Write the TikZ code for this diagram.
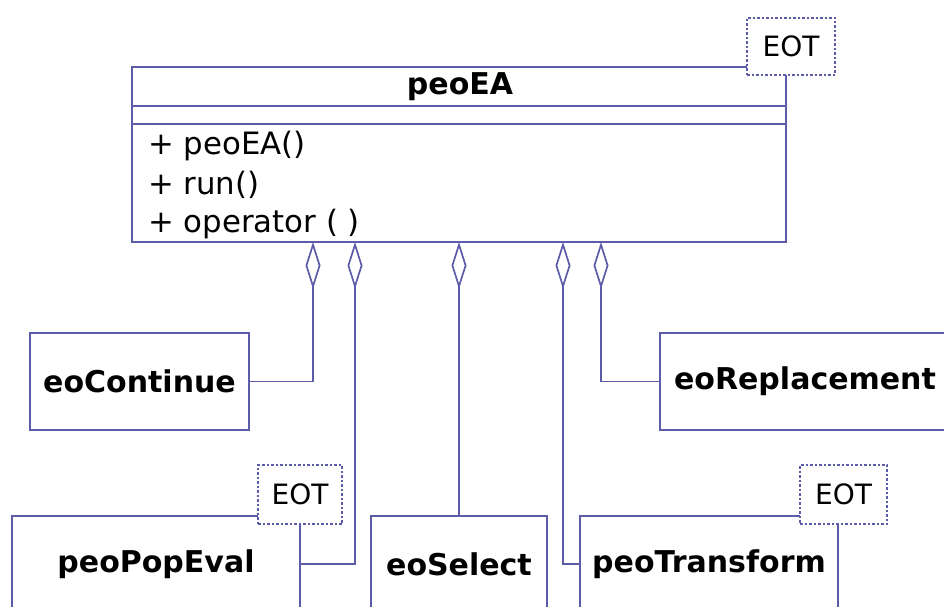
\documentclass[tikz,border=0pt]{standalone}
\usepackage{fontspec}
\setmainfont{DejaVu Sans}
\usetikzlibrary{arrows.meta}
\definecolor{lc}{RGB}{92,92,170}
\begin{document}
\begin{tikzpicture}[x=1pt,y=-1pt,
  cls/.style={draw=lc,line width=1.7pt,rectangle,inner sep=0pt,font=\fontsize{30}{36}\selectfont\bfseries},
  eot/.style={draw=lc,line width=1.4pt,dash pattern=on 2.5pt off 2pt,fill=white,inner sep=0pt,font=\fontsize{28}{34}\selectfont},
  meth/.style={anchor=west,inner sep=0pt,font=\fontsize{30.8}{36}\selectfont},
  sep/.style={draw=lc,line width=1.7pt},
  agg/.style={draw=lc,line width=1.7pt,{Diamond[open,length=47pt,width=15pt]}-}]
\clip (0,0) rectangle (944,607);
\useasboundingbox (0,0) rectangle (944,607);
% main class
\node[cls,minimum width=654pt,minimum height=175pt] (ea) at (459,154.5) {};
\draw[sep] ([yshift=-40pt]ea.north west) -- ([yshift=-40pt]ea.north east);
\draw[sep] ([yshift=-58pt]ea.north west) -- ([yshift=-58pt]ea.north east);
\node[font=\fontsize{30}{36}\selectfont\bfseries,inner sep=0pt] (title) at (460,87) {peoEA};
\node[meth] (m1) at (148,146) {+ peoEA()};
\node[meth] (m2) at (148,185) {+ run()};
\node[meth] (m3) at (148,224) {+ operator ( )};
\node[eot,minimum width=88pt,minimum height=57pt] (eot1) at (791,46.5) {EOT};
% other classes
\node[cls,minimum width=219pt,minimum height=97pt] (cont) at (139.5,381.5) {eoContinue};
\node[cls,minimum width=290pt,minimum height=97pt] (repl) at (805,381.5) {eoReplacement};
\node[cls,minimum width=288pt,minimum height=96pt] (ppe) at (156,564) {peoPopEval};
\node[cls,minimum width=176pt,minimum height=96pt] (sel) at (459,564) {eoSelect};
\node[cls,minimum width=258pt,minimum height=96pt] (ptr) at (709,564) {peoTransform};
\node[eot,minimum width=84pt,minimum height=59pt] (eot2) at (300,494.5) {EOT};
\node[eot,minimum width=87pt,minimum height=59pt] (eot3) at (843.5,494.5) {EOT};
% aggregation points
\coordinate (d1) at (313,242);
\coordinate (d2) at (355,242);
\coordinate (d3) at (459,242);
\coordinate (d4) at (563,242);
\coordinate (d5) at (601,242);
\draw[agg] (d1) |- (cont.east);
\draw[agg] (d2) |- (ppe.east);
\draw[agg] (d3) -- (d3 |- sel.north);
\draw[agg] (d4) |- (ptr.west);
\draw[agg] (d5) |- (repl.west);
\end{tikzpicture}
\end{document}
